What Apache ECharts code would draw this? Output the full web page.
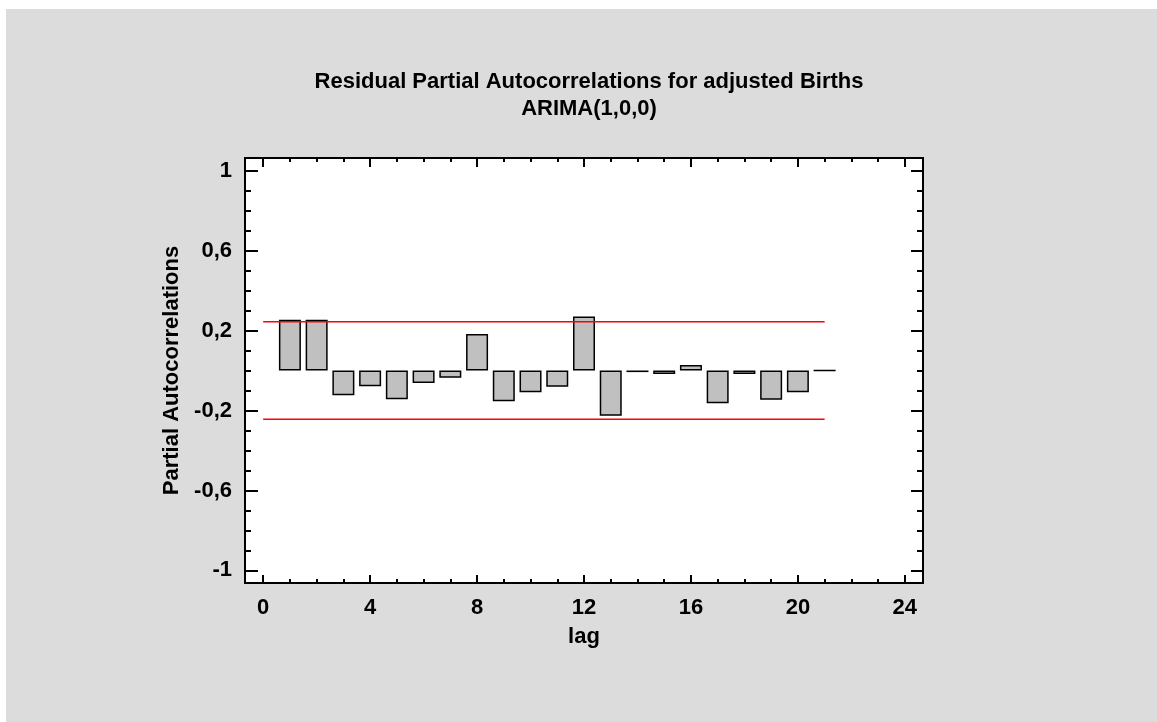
<!DOCTYPE html>
<html>
<head>
<meta charset="utf-8">
<script src="https://cdn.jsdelivr.net/npm/echarts@6/dist/echarts.min.js"></script>
<style>
  html, body { margin: 0; padding: 0; background: #ffffff; }
  #chart { width: 1157px; height: 722px; }
</style>
</head>
<body>
<div id="chart"></div>
<script>
// lag values and residual partial autocorrelations
const lags = [1, 2, 3, 4, 5, 6, 7, 8, 9, 10, 11, 12, 13, 14, 15, 16, 17, 18, 19, 20, 21];
const pacf = [0.254, 0.254, -0.124, -0.079, -0.144, -0.063, -0.036, 0.182, -0.154, -0.109,
  -0.081, 0.270, -0.226, -0.008, -0.018, 0.027, -0.164, -0.018, -0.146, -0.109, 0.0];

// 95% probability limits
const limitLags = [0, 21];
const upperLimit = [0.244, 0.244];
const lowerLimit = [-0.244, -0.244];

// tick labels
const xTicks = [0, 4, 8, 12, 16, 20, 24];
const yTicks = [-1, -0.6, -0.2, 0.2, 0.6, 1];
const xMinorTicks = [];
for (let i = 0; i <= 24; i++) xMinorTicks.push(i);
const yMinorTicks = [];
for (let i = -10; i <= 10; i++) yMinorTicks.push(i / 10);

const X_MIN = -0.68, X_MAX = 24.68;
const Y_MIN = -1.063, Y_MAX = 1.063;

const font = "'Liberation Sans', Arial, sans-serif";
const FS = 22;
const fmt = (v) => String(v).replace(".", ",");

const chart = echarts.init(document.getElementById("chart"), null, { renderer: "canvas" });

// helper for the tick-only frame axes
const frameX = (position, len, values, withLabels) => ({
  type: "value",
  position: position,
  min: X_MIN,
  max: X_MAX,
  splitLine: { show: false },
  axisLine: { show: true, onZero: false, lineStyle: { color: "#000", width: 2 } },
  axisTick: { show: true, inside: true, length: len, customValues: values, lineStyle: { color: "#000", width: 2 } },
  axisLabel: withLabels
    ? { show: true, customValues: values, formatter: fmt, margin: 14, color: "#000", fontFamily: font, fontWeight: "bold", fontSize: FS }
    : { show: false },
});

const frameY = (position, len, values, withLabels) => ({
  type: "value",
  position: position,
  min: Y_MIN,
  max: Y_MAX,
  splitLine: { show: false },
  axisLine: { show: true, onZero: false, lineStyle: { color: "#000", width: 2 } },
  axisTick: { show: true, inside: true, length: len, customValues: values, lineStyle: { color: "#000", width: 2 } },
  axisLabel: withLabels
    ? { show: true, customValues: values, formatter: fmt, margin: 13, color: "#000", fontFamily: font, fontWeight: "bold", fontSize: FS }
    : { show: false },
});

const xMain = frameX("bottom", 8, xTicks, true);
xMain.name = "lag";
xMain.nameLocation = "middle";
xMain.nameGap = 43;
xMain.nameTextStyle = { color: "#000", fontFamily: font, fontWeight: "bold", fontSize: FS };

const yMain = frameY("left", 13, yTicks, true);
yMain.name = "Partial Autocorrelations";
yMain.nameLocation = "middle";
yMain.nameGap = 62;
yMain.nameTextStyle = { color: "#000", fontFamily: font, fontWeight: "bold", fontSize: FS };

const option = {
  animation: false,
  backgroundColor: "transparent",
  graphic: [
    {
      type: "rect",
      z: -10,
      silent: true,
      shape: { x: 6, y: 9, width: 1151, height: 713 },
      style: { fill: "#dcdcdc" },
    },
  ],
  title: {
    text: "Residual Partial Autocorrelations for adjusted Births\nARIMA(1,0,0)",
    left: 584,
    top: 63,
    textAlign: "center",
    textStyle: { color: "#000", fontFamily: font, fontWeight: "bold", fontSize: FS, lineHeight: 27 },
  },
  grid: {
    left: 245,
    right: 234,
    top: 158,
    bottom: 139,
    show: true,
    backgroundColor: "#ffffff",
    borderWidth: 0,
  },
  xAxis: [
    xMain,
    frameX("bottom", 4, xMinorTicks, false),
    frameX("top", 9, xTicks, false),
    frameX("top", 4, xMinorTicks, false),
  ],
  yAxis: [
    yMain,
    frameY("left", 6, yMinorTicks, false),
    frameY("right", 12, yTicks, false),
    frameY("right", 6, yMinorTicks, false),
  ],
  series: [
    {
      type: "bar",
      xAxisIndex: 0,
      yAxisIndex: 0,
      barWidth: 22,
      data: lags.map((l, i) => [l, pacf[i]]),
      itemStyle: { color: "#c0c0c0", borderColor: "#000", borderWidth: 1.5 },
      z: 2,
    },
    {
      type: "line",
      xAxisIndex: 0,
      yAxisIndex: 0,
      symbol: "none",
      data: limitLags.map((l, i) => [l, upperLimit[i]]),
      lineStyle: { color: "#ff0000", width: 1.5 },
      z: 3,
    },
    {
      type: "line",
      xAxisIndex: 0,
      yAxisIndex: 0,
      symbol: "none",
      data: limitLags.map((l, i) => [l, lowerLimit[i]]),
      lineStyle: { color: "#ff0000", width: 1.5 },
      z: 3,
    },
  ],
};

chart.setOption(option);
</script>
</body>
</html>
